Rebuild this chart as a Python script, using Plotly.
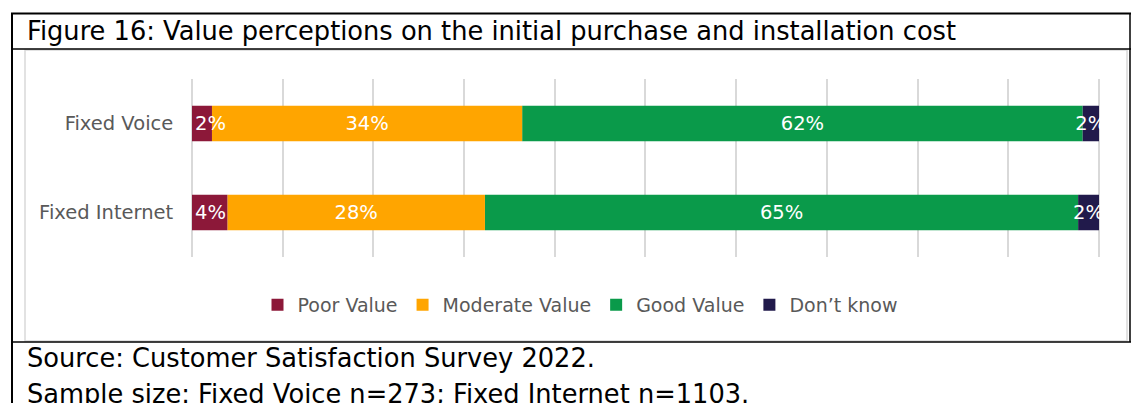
import plotly.graph_objs as go

# data (percent of respondents)
categories = ["Fixed Voice", "Fixed Internet"]
poor_value = [2.2, 3.9]
moderate_value = [34.2, 28.4]
good_value = [61.8, 65.4]
dont_know = [1.8, 2.3]

series_names = ["Poor Value", "Moderate Value", "Good Value", "Don\u2019t know"]
series_colors = ["#8C1839", "#FFA500", "#0A9A4A", "#211A4B"]
# Excel keeps the small first label inside the plot, so it starts at the bar start
label_anchor = ["start", "middle", "middle", "middle"]

W = 1131
H = 403
FONT = "DejaVu Sans"


def px(x):
    return x / W


def py(y):
    return 1 - y / H


series = [poor_value, moderate_value, good_value, dont_know]

# bases for the stacked segments
bases = []
run = [0] * len(categories)
for vals in series:
    bases.append(list(run))
    run = [a + b for a, b in zip(run, vals)]

fig = go.Figure()

# drawing order: the big segments first so the small end labels sit on top
for i in [2, 1, 0, 3]:
    vals = series[i]
    fig.add_trace(go.Bar(
        y=categories,
        x=vals,
        base=bases[i],
        name=series_names[i],
        legendrank=i + 1,
        orientation="h",
        marker=dict(color=series_colors[i], line=dict(width=0)),
        text=[str(round(v)) + "%" for v in vals],
        textposition="inside",
        insidetextanchor=label_anchor[i],
        constraintext="none",
        textangle=0,
        textfont=dict(family=FONT, size=19.5, color="white"),
        cliponaxis=True,
        hoverinfo="skip",
    ))

# plot spans 192..1099 px for 0..100 %; a little slack so the edge gridlines show
pad = 0.3
unit = (1099 - 192) / 100.0

fig.update_layout(
    width=W,
    height=H,
    margin=dict(l=0, r=0, t=0, b=0),
    paper_bgcolor="white",
    plot_bgcolor="white",
    barmode="overlay",
    bargap=0.6,
    showlegend=True,
    legend=dict(
        orientation="h",
        x=px(580),
        xanchor="center",
        y=py(305),
        yanchor="middle",
        font=dict(family=FONT, size=19, color="#595959"),
        bgcolor="rgba(0,0,0,0)",
    ),
    xaxis=dict(
        domain=[px(192 - pad * unit), px(1099 + pad * unit)],
        range=[-pad, 100 + pad],
        tick0=0,
        dtick=10,
        showgrid=True,
        gridcolor="#D9D9D9",
        gridwidth=1.5,
        zeroline=False,
        showline=False,
        showticklabels=False,
        ticks="",
        automargin=False,
    ),
    yaxis=dict(
        domain=[py(257), py(79)],
        type="category",
        autorange="reversed",
        showgrid=False,
        zeroline=False,
        showline=False,
        ticks="",
        ticklabelstandoff=15,
        tickfont=dict(family=FONT, size=19.5, color="#595959"),
        automargin=False,
    ),
)

# frame round the figure, title row and chart panel
shapes = [
    # chart panel
    dict(type="rect", x0=px(25), x1=px(1127), y0=py(50), y1=py(341),
         line=dict(color="#D9D9D9", width=1.5)),
    # outer box
    dict(type="line", x0=px(11), x1=px(1131), y0=py(13.5), y1=py(13.5),
         line=dict(color="black", width=2)),
    dict(type="line", x0=px(12), x1=px(12), y0=py(13), y1=py(403),
         line=dict(color="black", width=2)),
    dict(type="line", x0=px(1130), x1=px(1130), y0=py(13), y1=py(342),
         line=dict(color="black", width=1.5)),
    dict(type="line", x0=px(12), x1=px(1131), y0=py(49), y1=py(49),
         line=dict(color="black", width=1.5)),
    dict(type="line", x0=px(12), x1=px(1131), y0=py(342), y1=py(342),
         line=dict(color="black", width=1.5)),
]
for s in shapes:
    s["xref"] = "paper"
    s["yref"] = "paper"
    s["layer"] = "above"
    fig.add_shape(**s)

texts = [
    ("Figure 16: Value perceptions on the initial purchase and installation cost", 31),
    ("Source: Customer Satisfaction Survey 2022.", 358),
    ("Sample size: Fixed Voice n=273; Fixed Internet n=1103.", 394),
]
for t, y in texts:
    fig.add_annotation(
        text=t,
        xref="paper", yref="paper",
        x=px(25), y=py(y),
        xanchor="left", yanchor="middle",
        showarrow=False,
        font=dict(family=FONT, size=25.7, color="black"),
    )

# the page body has an 8px margin by default, drop it so the figure sits at 0,0
fig.write_html("out.html", config={"displayModeBar": False},
               post_script="document.body.style.margin='0';")
